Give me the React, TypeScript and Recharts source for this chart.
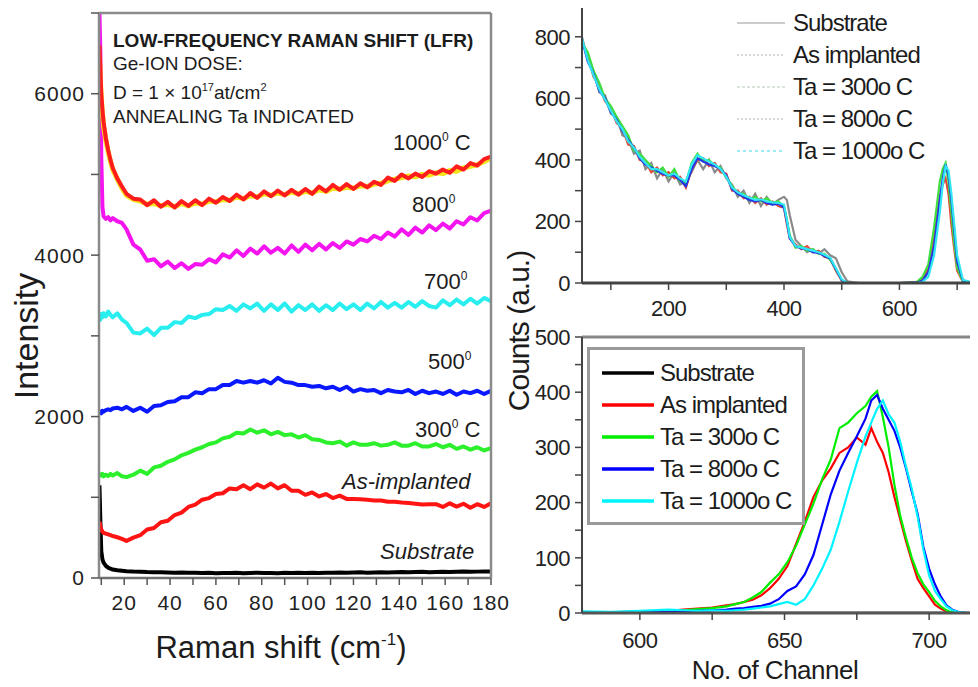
import React from 'react';
import { LineChart, Line, XAxis, YAxis, Legend } from 'recharts';

const FONT = '"Liberation Sans", Arial, Helvetica, sans-serif';
const TEXT = '#1c1c1c';

// ---------------- Left panel: low-frequency Raman spectra ----------------
const RAMAN_SHIFT = [
  9.2, 9.6, 10, 10.5, 11, 12, 13, 14, 15, 17, 19,
  21, 24, 27, 30, 33, 36, 39, 42, 45,
  48, 51, 54, 57, 60, 63, 66, 69, 72,
  75, 78, 81, 84, 87, 90, 93, 96, 99,
  102, 105, 108, 111, 114, 117, 120, 123, 126,
  129, 132, 135, 138, 141, 144, 147, 150, 153,
  156, 159, 162, 165, 168, 171, 174, 177, 180,
];
const LFR_SUBSTRATE = [
  1150, 700, 330, 230, 190, 150, 128, 115, 105, 96, 90,
  85, 80, 78, 74, 72, 70, 68, 66, 68,
  64, 66, 62, 64, 60, 63, 61, 64, 60,
  62, 65, 61, 63, 60, 64, 62, 66, 63,
  65, 62, 66, 64, 68, 65, 67, 70, 66,
  69, 72, 68, 71, 74, 70, 73, 76, 72,
  75, 78, 74, 77, 80, 76, 79, 82, 80,
];
const LFR_AS_IMPLANTED = [
  700, 640, 600, 575, 560, 550, 540, 530, 520, 505, 485,
  460, 500, 530, 600, 620, 690, 710, 780, 810,
  880, 910, 970, 990, 1040, 1050, 1110, 1100, 1150,
  1100, 1160, 1120, 1170, 1110, 1150, 1080, 1080, 1030,
  1060, 1010, 1040, 990, 1020, 980, 980, 975, 970,
  960, 960, 945, 945, 935, 930, 920, 910, 915,
  915, 880, 925, 885, 920, 870, 915, 880, 925,
];
const LFR_300C = [
  1300, 1280, 1270, 1290, 1260, 1280, 1265, 1290, 1270, 1300, 1260,
  1250, 1280, 1330, 1290, 1370, 1390, 1440, 1470, 1520,
  1550, 1590, 1620, 1660, 1680, 1730, 1750, 1800, 1790,
  1840, 1800, 1830, 1780, 1810, 1770, 1780, 1740, 1770,
  1720, 1710, 1680, 1670, 1690, 1640, 1680, 1650, 1650,
  1670, 1640, 1650, 1680, 1640, 1640, 1670, 1630, 1630,
  1660, 1620, 1650, 1600, 1630, 1590, 1620, 1580, 1610,
];
const LFR_500C = [
  2050, 2060, 2040, 2070, 2060, 2080, 2090, 2080, 2100, 2110, 2090,
  2120, 2070, 2110, 2060, 2130, 2140, 2180, 2190, 2240,
  2240, 2300, 2290, 2340, 2340, 2390, 2390, 2440, 2420,
  2440, 2420, 2450, 2410, 2480, 2430, 2420, 2390, 2390,
  2370, 2380, 2350, 2370, 2330, 2370, 2310, 2340, 2320,
  2330, 2290, 2330, 2310, 2300, 2330, 2280, 2320, 2290,
  2310, 2280, 2320, 2270, 2310, 2290, 2320, 2280, 2320,
];
const LFR_700C = [
  3250, 3200, 3270, 3230, 3280, 3240, 3300, 3260, 3230, 3280, 3200,
  3160, 3040, 3030, 3090, 3010, 3100, 3100, 3170, 3160,
  3240, 3220, 3260, 3270, 3330, 3320, 3370, 3310, 3390,
  3340, 3400, 3310, 3390, 3320, 3400, 3300, 3380, 3320,
  3390, 3310, 3380, 3320, 3400, 3330, 3390, 3320, 3400,
  3340, 3420, 3350, 3410, 3350, 3420, 3360, 3430, 3370,
  3350, 3440, 3380, 3450, 3390, 3460, 3400, 3470, 3430,
];
const LFR_800C = [
  7000, 6500, 5200, 4600, 4480, 4450, 4470, 4430, 4460, 4420, 4400,
  4320, 4130, 4070, 3930, 3950, 3860, 3920, 3840, 3900,
  3830, 3890, 3880, 3950, 3910, 4010, 3970, 4060, 3990,
  4080, 4020, 4110, 4030, 4090, 4020, 4120, 4040, 4130,
  4060, 4140, 4070, 4150, 4090, 4170, 4130, 4200, 4170,
  4240, 4200, 4280, 4230, 4320, 4250, 4340, 4280, 4370,
  4310, 4390, 4330, 4420, 4380, 4470, 4430, 4520, 4550,
];
const LFR_1000C_REPEAT = [
  6450, 6150, 5950, 5750, 5600, 5420, 5280, 5160, 5060, 4940, 4830,
  4740, 4690, 4670, 4630, 4640, 4610, 4630, 4600, 4640,
  4610, 4650, 4630, 4670, 4660, 4690, 4680, 4720, 4700,
  4740, 4720, 4760, 4740, 4770, 4750, 4780, 4760, 4790,
  4770, 4810, 4790, 4830, 4820, 4840, 4830, 4860, 4850,
  4880, 4890, 4920, 4940, 4960, 4980, 4970, 5000, 4990,
  5020, 5010, 5050, 5040, 5080, 5100, 5120, 5160, 5200,
];
const LFR_1000C = [
  6600, 6300, 6000, 5800, 5650, 5450, 5300, 5180, 5080, 4950, 4850,
  4760, 4700, 4690, 4620, 4680, 4600, 4660, 4590, 4670,
  4610, 4680, 4620, 4700, 4650, 4720, 4670, 4750, 4690,
  4770, 4710, 4790, 4730, 4800, 4740, 4810, 4750, 4820,
  4760, 4850, 4790, 4870, 4810, 4880, 4820, 4890, 4840,
  4910, 4870, 4960, 4920, 5000, 4950, 5010, 4970, 5040,
  5010, 5060, 5020, 5100, 5060, 5140, 5110, 5190, 5220,
];
const RAMAN_TICKS_X = [10, 20, 30, 40, 50, 60, 70, 80, 90, 100, 110, 120, 130, 140, 150, 160, 170, 180];
const RAMAN_TICKS_Y = [0, 1000, 2000, 3000, 4000, 5000, 6000, 7000];

// ---------------- Top right: full RBS spectra ----------------
const CHANNEL_FULL = [
  50, 60, 70, 80, 90, 100, 110, 120, 130, 140,
  150, 160, 170, 180, 190, 200, 210, 220, 230, 240,
  250, 260, 270, 280, 290, 300, 310, 320, 330, 340,
  350, 360, 370, 380, 390, 400, 405, 410, 420, 430,
  440, 450, 460, 470, 480, 490, 500, 510, 530, 560,
  600, 630, 640, 650, 660, 670, 675, 680, 685, 690,
  695, 700, 710, 730, 750,
];
const RBS_SUBSTRATE = [
  800, 720, 690, 620, 610, 550, 540, 480, 470, 420,
  430, 370, 390, 340, 370, 330, 360, 320, 330, 360,
  400, 370, 400, 360, 380, 340, 320, 280, 300, 260,
  290, 250, 280, 255, 270, 280, 270, 220, 140, 120,
  100, 110, 95, 110, 90, 80, 35, 5, 0, 0,
  0, 0, 0, 0, 0, 0, 0, 0, 0, 0,
  0, 0, 0, 0, 0,
];
const RBS_AS_IMPLANTED = [
  790, 740, 670, 640, 590, 570, 520, 505, 450, 445,
  400, 395, 360, 375, 350, 360, 340, 345, 310, 370,
  400, 405, 380, 390, 360, 355, 300, 300, 275, 280,
  260, 275, 255, 265, 250, 245, 190, 145, 125, 110,
  120, 100, 105, 85, 80, 40, 8, 0, 0, 0,
  0, 3, 15, 45, 150, 280, 320, 340, 290, 190,
  110, 40, 5, 0, 0,
];
const RBS_300C = [
  780, 750, 690, 650, 600, 575, 540, 510, 480, 430,
  420, 400, 380, 360, 375, 345, 370, 330, 325, 390,
  420, 395, 400, 380, 375, 345, 315, 290, 290, 270,
  280, 265, 275, 260, 265, 250, 205, 155, 115, 120,
  105, 110, 95, 95, 75, 45, 10, 0, 0, 0,
  0, 3, 20, 60, 180, 330, 370, 390, 330, 230,
  130, 50, 5, 0, 0,
];
const RBS_800C = [
  790, 720, 680, 625, 600, 555, 530, 495, 465, 440,
  405, 385, 375, 365, 355, 350, 350, 335, 315, 370,
  405, 395, 385, 380, 370, 350, 305, 290, 280, 270,
  265, 270, 260, 255, 258, 245, 200, 145, 120, 112,
  110, 100, 98, 88, 80, 45, 10, 0, 0, 0,
  0, 1, 8, 35, 120, 270, 340, 385, 350, 270,
  170, 70, 8, 0, 0,
];
const RBS_1000C = [
  795, 725, 675, 630, 595, 560, 525, 500, 460, 440,
  410, 390, 370, 370, 360, 350, 355, 340, 330, 385,
  415, 405, 395, 385, 370, 345, 310, 295, 285, 278,
  270, 272, 265, 262, 260, 255, 205, 150, 120, 115,
  110, 105, 100, 92, 82, 48, 12, 0, 0, 0,
  0, 0, 4, 20, 90, 230, 320, 380, 365, 290,
  190, 90, 10, 0, 0,
];
const FULL_TICKS_X = [100, 200, 300, 400, 500, 600, 700];
const FULL_TICKS_Y = [0, 100, 200, 300, 400, 500, 600, 700, 800];

// ---------------- Bottom right: Ge peak ----------------
const CHANNEL_PEAK = [
  580, 590, 600, 610, 615, 620, 625, 630, 633, 636,
  639, 642, 645, 648, 651, 654, 657, 660, 663, 666,
  669, 672, 675, 678, 680, 682, 684, 686, 688, 690,
  692, 694, 696, 698, 700, 702, 704, 706, 708, 710,
  713, 716, 720,
];
const PEAK_SUBSTRATE = [
  0, 0, 0, 0, 0, 0, 0, 0, 0, 0,
  0, 0, 0, 0, 0, 0, 0, 0, 0, 0,
  0, 0, 0, 0, 0, 0, 0, 0, 0, 0,
  0, 0, 0, 0, 0, 0, 0, 0, 0, 0,
  0, 0, 0,
];
const PEAK_AS_IMPLANTED = [
  0, 1, 3, 4, 6, 8, 10, 14, 16, 20,
  24, 32, 45, 62, 85, 125, 165, 210, 240, 262,
  290, 300, 318, 305, 335, 310, 290, 255, 210, 170,
  130, 95, 62, 45, 30, 15, 8, 3, 0, 0,
  0, 0, 0,
];
const PEAK_300C = [
  0, 1, 2, 4, 5, 7, 9, 12, 16, 20,
  28, 38, 55, 70, 92, 122, 160, 198, 242, 278,
  335, 345, 362, 375, 392, 402, 355, 300, 232, 176,
  136, 100, 72, 52, 38, 22, 12, 5, 1, 0,
  0, 0, 0,
];
const PEAK_800C = [
  0, 0, 1, 2, 3, 4, 5, 6, 8, 9,
  11, 13, 17, 25, 40, 48, 70, 105, 160, 215,
  258, 290, 320, 352, 385, 395, 370, 350, 330, 300,
  262, 220, 180, 120, 80, 52, 30, 14, 6, 2,
  0, 0, 0,
];
const PEAK_1000C = [
  3, 2, 4, 6, 5, 4, 5, 4, 5, 6,
  8, 10, 12, 16, 20, 15, 25, 50, 80, 115,
  165, 220, 272, 320, 345, 370, 385, 360, 345, 310,
  265, 225, 175, 115, 68, 40, 25, 12, 5, 2,
  0, 0, 0,
];
const PEAK_TICKS_X = [600, 625, 650, 675, 700];
const PEAK_TICKS_Y = [0, 50, 100, 150, 200, 250, 300, 350, 400, 450, 500];

const SAMPLE_NAMES = ['Substrate', 'As implanted', 'Ta = 300o C', 'Ta = 800o C', 'Ta = 1000o C'];

// ---------------- Build chart rows ----------------
const ramanRows = RAMAN_SHIFT.map((x, i) => ({
  x,
  sub: LFR_SUBSTRATE[i],
  asi: LFR_AS_IMPLANTED[i],
  t300: LFR_300C[i],
  t500: LFR_500C[i],
  t700: LFR_700C[i],
  t800: LFR_800C[i],
  t1000b: LFR_1000C_REPEAT[i],
  t1000: LFR_1000C[i],
}));
const fullRows = CHANNEL_FULL.map((x, i) => ({
  x,
  s0: RBS_SUBSTRATE[i],
  s1: RBS_AS_IMPLANTED[i],
  s2: RBS_300C[i],
  s3: RBS_800C[i],
  s4: RBS_1000C[i],
}));
const peakRows = CHANNEL_PEAK.map((x, i) => ({
  x,
  s0: PEAK_SUBSTRATE[i],
  s1: PEAK_AS_IMPLANTED[i],
  s2: PEAK_300C[i],
  s3: PEAK_800C[i],
  s4: PEAK_1000C[i],
}));

// ---------------- Styles ----------------
const RAMAN_SERIES = [
  { key: 'sub', color: '#000000' },
  { key: 'asi', color: '#ff1414' },
  { key: 't300', color: '#2cf02c' },
  { key: 't500', color: '#0a18ff' },
  { key: 't700', color: '#28eef0' },
  { key: 't800', color: '#f414f0' },
  { key: 't1000b', color: '#f2e21c' },
  { key: 't1000', color: '#ff1c1c' },
];
const FULL_COLORS = ['#8a8a8a', '#e0483a', '#3ee03e', '#2236e6', '#30e6f2'];
const PEAK_COLORS = ['#000000', '#ff0000', '#00ee00', '#0000ff', '#00f4ff'];
const TOP_LEGEND_STROKES = [
  { stroke: '#9a9a9a', dash: undefined },
  { stroke: '#b4b4b4', dash: '2 2' },
  { stroke: '#b8cab8', dash: '3 2' },
  { stroke: '#b4b4b4', dash: '2 2' },
  { stroke: '#3cd8ea', dash: '3 3' },
];

const tickStyleLeft = { fontSize: 21, fill: '#222', fontFamily: FONT, letterSpacing: 1 };
const tickStyleRight = { fontSize: 22, fill: '#222', fontFamily: FONT, letterSpacing: -0.5 };

const every = (n: number) => (v: number) => (v % n === 0 ? String(v) : '');

const TopLegend = () => (
  <div style={{ fontFamily: FONT }}>
    {SAMPLE_NAMES.map((name, i) => (
      <div key={name} style={{ display: 'flex', alignItems: 'center', height: 32 }}>
        <svg width={50} height={8} style={{ display: 'block' }}>
          <line x1={1} y1={4} x2={49} y2={4} stroke={TOP_LEGEND_STROKES[i].stroke}
            strokeWidth={1.2} strokeDasharray={TOP_LEGEND_STROKES[i].dash} />
        </svg>
        <span style={{ marginLeft: 7, fontSize: 24, letterSpacing: -1, color: TEXT, whiteSpace: 'nowrap' }}>{name}</span>
      </div>
    ))}
  </div>
);

const BottomLegend = () => (
  <div style={{
    fontFamily: FONT, border: '3px solid #9a9a9a', background: '#fff', boxSizing: 'border-box',
    width: 218, height: 178, paddingTop: 7, paddingLeft: 12,
  }}>
    {SAMPLE_NAMES.map((name, i) => (
      <div key={name} style={{ display: 'flex', alignItems: 'center', height: 32 }}>
        <svg width={52} height={8} style={{ display: 'block' }}>
          <line x1={0} y1={4} x2={52} y2={4} stroke={PEAK_COLORS[i]} strokeWidth={3.5} />
        </svg>
        <span style={{ marginLeft: 6, fontSize: 24, letterSpacing: -1, color: TEXT, whiteSpace: 'nowrap' }}>{name}</span>
      </div>
    ))}
  </div>
);

const Note = ({ left, top, size, children, bold, italic }: any) => (
  <div style={{
    position: 'absolute', left, top, fontSize: size, lineHeight: 1, fontFamily: FONT,
    fontWeight: bold ? 700 : 400, fontStyle: italic ? 'italic' : 'normal', color: TEXT, whiteSpace: 'nowrap',
  }}>{children}</div>
);

const Sup = ({ children, size = 12, raise = 9 }: any) => (
  <span style={{ fontSize: size, position: 'relative', top: -raise }}>{children}</span>
);

export default function App() {
  return (
    <div style={{ position: 'relative', width: 978, height: 687, margin: -8, overflow: 'hidden', background: '#fff' }}>
      {/* Left panel */}
      <div style={{ position: 'absolute', left: 0, top: 0, width: 515, height: 687, overflow: 'hidden' }}>
        <LineChart width={515} height={687} data={ramanRows} margin={{ top: 13, right: 24, bottom: 69, left: 0 }}>
          <XAxis dataKey="x" type="number" domain={[9, 180]} allowDataOverflow ticks={RAMAN_TICKS_X} interval={0}
            tickFormatter={every(20)} height={40} tickSize={7} tickMargin={10} tick={tickStyleLeft}
            axisLine={{ stroke: '#707070', strokeWidth: 2.5 }} tickLine={{ stroke: '#555', strokeWidth: 1.5 }} />
          <XAxis xAxisId="top" orientation="top" mirror dataKey="x" type="number" domain={[9, 180]} allowDataOverflow
            ticks={RAMAN_TICKS_X} interval={0} height={1} tick={false} tickSize={5}
            axisLine={{ stroke: '#8a8a8a', strokeWidth: 2.5 }} tickLine={{ stroke: '#666', strokeWidth: 1.5 }} />
          <YAxis type="number" domain={[0, 7000]} allowDataOverflow ticks={RAMAN_TICKS_Y} interval={0}
            tickFormatter={every(2000)} width={99} tickSize={8} tickMargin={6} tick={tickStyleLeft}
            axisLine={{ stroke: '#8a8a8a', strokeWidth: 2.5 }} tickLine={{ stroke: '#555', strokeWidth: 1.5 }} />
          <YAxis yAxisId="right" orientation="right" mirror type="number" domain={[0, 7000]} allowDataOverflow
            ticks={RAMAN_TICKS_Y} interval={0} width={1} tick={false} tickSize={5}
            axisLine={{ stroke: '#8a8a8a', strokeWidth: 2.5 }} tickLine={{ stroke: '#666', strokeWidth: 1.5 }} />
          {RAMAN_SERIES.map((s) => (
            <Line key={s.key} type="linear" dataKey={s.key} stroke={s.color} strokeWidth={s.key === 't1000b' ? 5 : 4}
              dot={false} isAnimationActive={false} strokeLinejoin="round" />
          ))}
        </LineChart>
      </div>

      {/* Top right panel */}
      <div style={{ position: 'absolute', left: 520, top: 0, width: 470, height: 330 }}>
        <LineChart width={470} height={330} data={fullRows} margin={{ top: 6, right: 4, bottom: 7, left: 0 }}>
          <XAxis dataKey="x" type="number" domain={[50, 750]} allowDataOverflow ticks={FULL_TICKS_X} interval={0}
            tickFormatter={every(200)} height={40} tickSize={7} tickMargin={10} tick={tickStyleRight}
            axisLine={{ stroke: '#444', strokeWidth: 3 }} tickLine={{ stroke: '#444', strokeWidth: 1.5 }} />
          <XAxis xAxisId="top" orientation="top" mirror dataKey="x" type="number" domain={[50, 750]} allowDataOverflow
            ticks={FULL_TICKS_X} interval={0} height={1} tick={false} tickSize={5}
            axisLine={{ stroke: '#777', strokeWidth: 3 }} tickLine={{ stroke: '#555', strokeWidth: 1.5 }} />
          <YAxis type="number" domain={[0, 900]} allowDataOverflow ticks={FULL_TICKS_Y} interval={0}
            tickFormatter={every(200)} width={62} tickSize={7} tickMargin={5} tick={tickStyleRight}
            axisLine={{ stroke: '#444', strokeWidth: 2 }} tickLine={{ stroke: '#444', strokeWidth: 1.5 }} />
          {FULL_COLORS.map((c, i) => (
            <Line key={i} name={SAMPLE_NAMES[i]} type="linear" dataKey={`s${i}`} stroke={c} strokeWidth={2.2}
              dot={false} isAnimationActive={false} />
          ))}
          <Legend layout="vertical" align="center" verticalAlign="middle" content={<TopLegend />}
            wrapperStyle={{ left: 216, top: 7, width: 'auto', height: 'auto' }} />
        </LineChart>
      </div>

      {/* Bottom right panel */}
      <div style={{ position: 'absolute', left: 520, top: 320, width: 470, height: 367 }}>
        <LineChart width={470} height={367} data={peakRows} margin={{ top: 17, right: 3, bottom: 34, left: 0 }}>
          <XAxis dataKey="x" type="number" domain={[580, 720]} allowDataOverflow ticks={PEAK_TICKS_X} interval={0}
            tickFormatter={every(50)} height={40} tickSize={7} tickMargin={12} tick={tickStyleRight}
            axisLine={{ stroke: '#555', strokeWidth: 3 }} tickLine={{ stroke: '#444', strokeWidth: 1.5 }} />
          <XAxis xAxisId="top" orientation="top" mirror dataKey="x" type="number" domain={[580, 720]} allowDataOverflow
            ticks={PEAK_TICKS_X} interval={0} height={1} tick={false} tickSize={5}
            axisLine={{ stroke: '#888', strokeWidth: 3 }} tickLine={{ stroke: '#555', strokeWidth: 1.5 }} />
          <YAxis type="number" domain={[0, 500]} allowDataOverflow ticks={PEAK_TICKS_Y} interval={0}
            tickFormatter={every(100)} width={62} tickSize={7} tickMargin={5} tick={tickStyleRight}
            axisLine={{ stroke: '#444', strokeWidth: 2 }} tickLine={{ stroke: '#444', strokeWidth: 1.5 }} />
          {PEAK_COLORS.map((c, i) => (
            <Line key={i} name={SAMPLE_NAMES[i]} type="linear" dataKey={`s${i}`} stroke={c}
              strokeWidth={i === 0 ? 2.5 : 2.2} dot={false} isAnimationActive={false} />
          ))}
          <Legend layout="vertical" align="center" verticalAlign="middle" content={<BottomLegend />}
            wrapperStyle={{ left: 67, top: 27, width: 'auto', height: 'auto' }} />
        </LineChart>
      </div>

      {/* Left panel annotations */}
      <Note left={113} top={31} size={19} bold>LOW-FREQUENCY RAMAN SHIFT (LFR)</Note>
      <Note left={113} top={54} size={19}>Ge-ION DOSE:</Note>
      <Note left={113} top={83} size={19}>D = 1 × 10<Sup size={11} raise={8}>17</Sup>at/cm<Sup size={11} raise={8}>2</Sup></Note>
      <Note left={113} top={107} size={19}>ANNEALING Ta INDICATED</Note>
      <Note left={393} top={132} size={22}>1000<Sup>0</Sup> C</Note>
      <Note left={412} top={194} size={22}>800<Sup>0</Sup></Note>
      <Note left={424} top={271} size={22}>700<Sup>0</Sup></Note>
      <Note left={428} top={351} size={22}>500<Sup>0</Sup></Note>
      <Note left={415} top={419} size={22}>300<Sup>0</Sup> C</Note>
      <Note left={342} top={471} size={22} italic>As-implanted</Note>
      <Note left={380} top={541} size={22} italic>Substrate</Note>

      {/* Axis titles */}
      <div style={{ position: 'absolute', left: 81, top: 632, width: 400, textAlign: 'center', fontFamily: FONT, fontSize: 31, lineHeight: 1, color: TEXT }}>
        Raman shift (cm<Sup size={17} raise={13}>-1</Sup>)
      </div>
      <div style={{ position: 'absolute', left: -74, top: 319, width: 200, height: 34, textAlign: 'center', fontFamily: FONT, fontSize: 34, lineHeight: '34px', color: TEXT, transform: 'rotate(-90deg)' }}>
        Intensity
      </div>
      <div style={{ position: 'absolute', left: 399, top: 316, width: 240, height: 30, textAlign: 'center', fontFamily: FONT, fontSize: 30, lineHeight: '30px', letterSpacing: -1, color: TEXT, transform: 'rotate(-90deg)' }}>
        Counts (a.u.)
      </div>
      <div style={{ position: 'absolute', left: 625, top: 657, width: 300, textAlign: 'center', fontFamily: FONT, fontSize: 26, lineHeight: 1, letterSpacing: -0.5, color: TEXT }}>
        No. of Channel
      </div>
    </div>
  );
}
